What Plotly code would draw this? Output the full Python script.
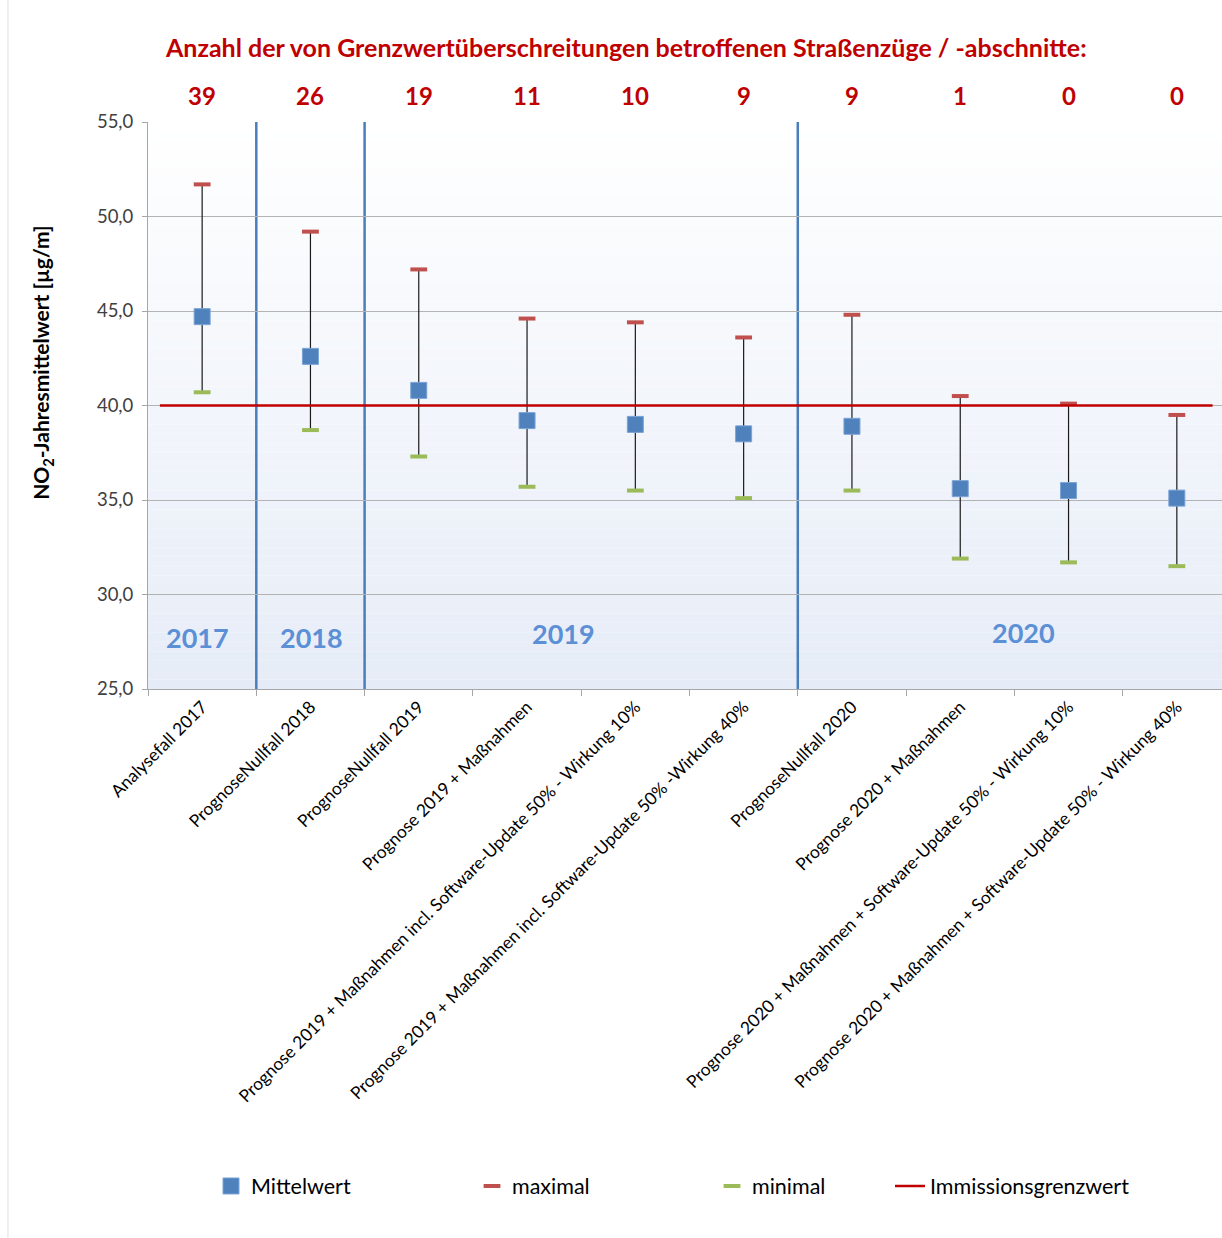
import plotly.graph_objects as go

# --- data -------------------------------------------------------------
categories = [
    "Analysefall 2017",
    "PrognoseNullfall 2018",
    "PrognoseNullfall 2019",
    "Prognose 2019 + Maßnahmen",
    "Prognose 2019 + Maßnahmen incl. Software-Update 50% - Wirkung 10%",
    "Prognose 2019 + Maßnahmen incl. Software-Update 50% -Wirkung 40%",
    "PrognoseNullfall 2020",
    "Prognose 2020 + Maßnahmen",
    "Prognose 2020 + Maßnahmen + Software-Update 50% - Wirkung 10%",
    "Prognose 2020 + Maßnahmen + Software-Update 50% - Wirkung 40%",
]
mittelwert = [44.7, 42.6, 40.8, 39.2, 39.0, 38.5, 38.9, 35.6, 35.5, 35.1]
maximal = [51.7, 49.2, 47.2, 44.6, 44.4, 43.6, 44.8, 40.5, 40.1, 39.5]
minimal = [40.7, 38.7, 37.3, 35.7, 35.5, 35.1, 35.5, 31.9, 31.7, 31.5]
anzahl = [39, 26, 19, 11, 10, 9, 9, 1, 0, 0]
grenzwert = 40.0
jahre = ["2017", "2018", "2019", "2020"]
jahr_pos = [-0.04, 1.01, 3.34, 7.58]
jahr_y = [27.75, 27.75, 27.95, 28.0]
trenner = [0.5, 1.5, 5.5]

FONT = "Lato"
RED = "#c00000"
BLUE_YEAR = "#5b8fd6"

x = list(range(len(categories)))

fig = go.Figure()

# mean values with high-low range as error bars
fig.add_trace(go.Scatter(
    x=x, y=mittelwert, mode="markers", name="Mittelwert", legend="legend",
    showlegend=True,
    marker=dict(symbol="square", size=16, color="#4f81bd",
                line=dict(color="#7aa3d6", width=1)),
    error_y=dict(type="data", symmetric=False,
                 array=[mx - m for mx, m in zip(maximal, mittelwert)],
                 arrayminus=[m - mn for m, mn in zip(mittelwert, minimal)],
                 color="#1a1a1a", thickness=1.2, width=0),
))
fig.add_trace(go.Scatter(
    x=x, y=maximal, mode="markers", name="maximal", legend="legend2",
    showlegend=True,
    marker=dict(symbol="line-ew", size=12, color="#c0504d",
                line=dict(color="#c0504d", width=4)),
))
fig.add_trace(go.Scatter(
    x=x, y=minimal, mode="markers", name="minimal", legend="legend3",
    showlegend=True,
    marker=dict(symbol="line-ew", size=12, color="#9bbb59",
                line=dict(color="#9bbb59", width=4)),
))
fig.add_trace(go.Scatter(
    x=[-0.39, 9.33], y=[grenzwert, grenzwert], mode="lines",
    name="Immissionsgrenzwert", legend="legend4", showlegend=True,
    line=dict(color=RED, width=2.5),
))

# background gradient of the plot area
shapes = []
n_bands = 60
top = (255, 255, 255)
bottom = (230, 236, 247)
for i in range(n_bands):
    t = (i + 0.5) / n_bands
    c = tuple(round(top[k] + (bottom[k] - top[k]) * t) for k in range(3))
    shapes.append(dict(type="rect", xref="paper", yref="paper",
                       x0=0, x1=1, y0=1 - (i + 1) / n_bands, y1=1 - i / n_bands,
                       fillcolor="rgb(%d,%d,%d)" % c, line=dict(width=0),
                       layer="below"))
# year separators
for s in trenner:
    shapes.append(dict(type="line", xref="x", yref="paper", x0=s, x1=s,
                       y0=0, y1=1, line=dict(color="#4a7ebb", width=2.5),
                       layer="between"))
# outer chart frame on the left
shapes.append(dict(type="line", xref="paper", yref="paper",
                   x0=-0.1304, x1=-0.1304, y0=-0.97, y1=1.22,
                   line=dict(color="#e0e0e0", width=1)))

annotations = [dict(
    text="Anzahl der von Grenzwertüberschreitungen betroffenen Straßenzüge / -abschnitte:",
    xref="paper", yref="paper", x=0.445, y=1.132, showarrow=False,
    xanchor="center", yanchor="middle",
    font=dict(family=FONT, size=25, color=RED, weight="bold"))]
for xi, n in zip(x, anzahl):
    annotations.append(dict(text=str(n), xref="x", yref="paper", x=xi, y=1.046,
                            showarrow=False, xanchor="center", yanchor="middle",
                            font=dict(family=FONT, size=24, color=RED, weight="bold")))
for j, xp, yp in zip(jahre, jahr_pos, jahr_y):
    annotations.append(dict(text=j, xref="x", yref="y", x=xp, y=yp,
                            showarrow=False, xanchor="center", yanchor="middle",
                            font=dict(family=FONT, size=27, color=BLUE_YEAR,
                                      weight="bold")))
annotations.append(dict(
    text="NO<sub>2</sub>-Jahresmittelwert [µg/m]", textangle=-90,
    xref="paper", yref="paper", x=-0.0987, y=0.577, showarrow=False,
    xanchor="center", yanchor="middle",
    font=dict(family=FONT, size=21, color="#000000", weight="bold")))

legend_common = dict(orientation="h", xref="container", yref="container",
                     yanchor="middle", bgcolor="rgba(0,0,0,0)",
                     font=dict(family=FONT, size=21.5, color="#000000"))

fig.update_layout(
    width=1222, height=1238,
    margin=dict(l=148, r=0, t=122, b=549),
    paper_bgcolor="white", plot_bgcolor="white",
    separators=",.",
    showlegend=True,
    font=dict(family=FONT, color="#000000"),
    shapes=shapes, annotations=annotations,
    legend=dict(x=211 / 1222, y=1 - 1186 / 1238, **legend_common),
    legend2=dict(x=472 / 1222, y=1 - 1186 / 1238, **legend_common),
    legend3=dict(x=712 / 1222, y=1 - 1186 / 1238, **legend_common),
    legend4=dict(x=890 / 1222, y=1 - 1186 / 1238, **legend_common),
    xaxis=dict(range=[-0.5, 9.417], tickmode="array", tickvals=x,
               ticktext=categories, tickangle=-45, ticks="",
               showgrid=False, zeroline=False,
               showline=True, linecolor="#a6a6a6", linewidth=1,
               tickfont=dict(family=FONT, size=17.4, color="#000000"),
               minor=dict(tickmode="linear", tick0=-0.5, dtick=1,
                          ticks="outside", ticklen=6, tickcolor="#a6a6a6",
                          showgrid=False)),
    yaxis=dict(range=[25, 55], dtick=5, tick0=25, tickformat=".1f",
               showgrid=True, gridcolor="#b3b3b3", gridwidth=1,
               zeroline=False, showline=True, linecolor="#a6a6a6",
               ticks="outside", ticklen=5, tickcolor="#a6a6a6",
               ticklabelstandoff=5,
               tickfont=dict(family=FONT, size=18.5, color="#404040")),
)

fig.write_html("out.html")
